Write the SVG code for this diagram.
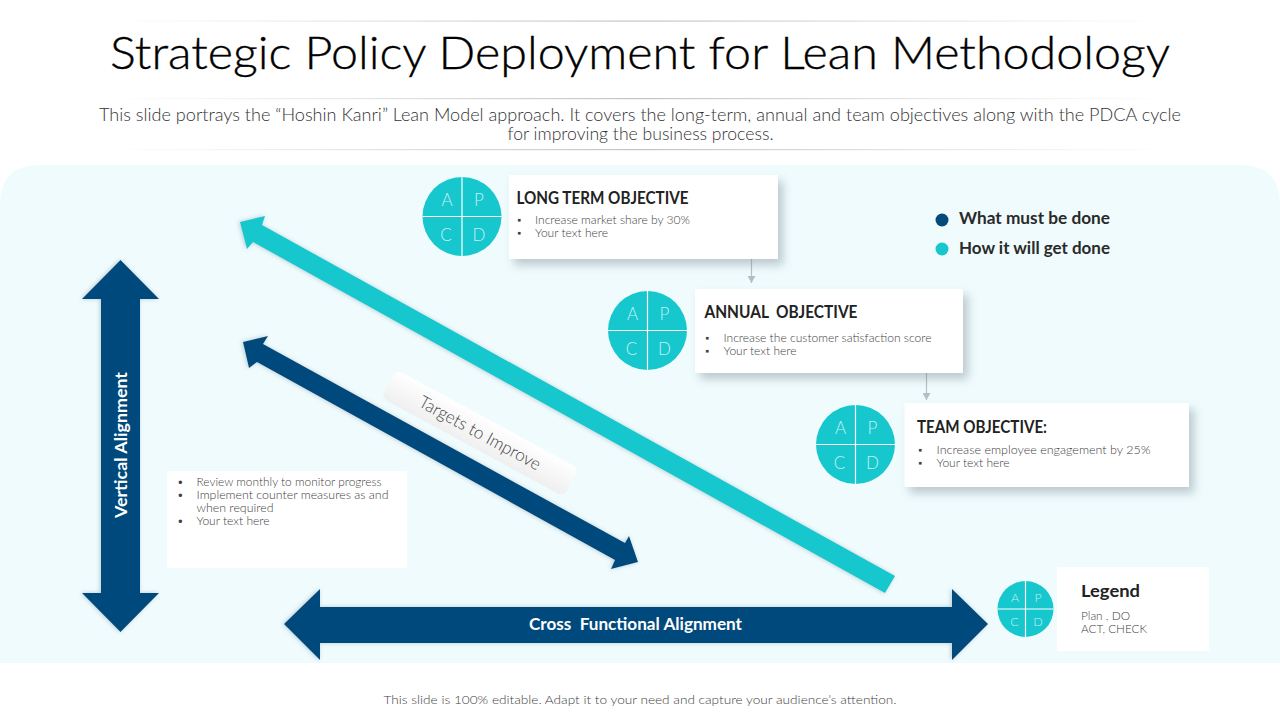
<svg xmlns="http://www.w3.org/2000/svg" width="1280" height="720" viewBox="0 0 1280 720">
<style>
text{font-family:"Lato","Open Sans","Liberation Sans",sans-serif;white-space:pre}
.navy{fill:#064a7c}.teal{fill:#16c7cd}
.card{fill:#fff}
.ct{font-size:16.5px;font-weight:700;fill:#222}
.bt{font-size:11.5px;fill:#3f3f3f;font-weight:300}
.cl{font-size:17px;fill:#c4f1f3;text-anchor:middle;font-weight:300}
.cs{font-size:12.5px;fill:#c4f1f3;text-anchor:middle;font-weight:300}
.div{stroke:#fff;stroke-width:1.2}
.sub{font-size:17px;fill:#333;text-anchor:middle;font-weight:300}
.wl{font-size:17px;font-weight:700;fill:#fff;text-anchor:middle}
.key{font-size:17px;font-weight:700;fill:#2a2a2a}
.conn{stroke:#b4bfc4;stroke-width:1.2;fill:none;marker-end:url(#ah)}
</style>
<defs>
<linearGradient id="rule"><stop offset="0" stop-color="#ccc" stop-opacity="0"/><stop offset=".5" stop-color="#c4c4c4"/><stop offset="1" stop-color="#ccc" stop-opacity="0"/></linearGradient>
<linearGradient id="band" x1="0" y1="0" x2="0" y2="1"><stop offset="0" stop-color="#fff"/><stop offset="1" stop-color="#efeff0"/></linearGradient>
<filter id="cs" x="-10%" y="-20%" width="125%" height="160%"><feDropShadow dx="5" dy="6" stdDeviation="5" flood-color="#6f8088" flood-opacity=".4"/></filter>
<filter id="as" x="-10%" y="-10%" width="120%" height="120%"><feDropShadow dx="-1" dy="0" stdDeviation="2" flood-color="#5d7d90" flood-opacity=".4"/></filter>
<marker id="ah" markerUnits="userSpaceOnUse" markerWidth="8" markerHeight="8" refX="7" refY="4" orient="auto"><path d="M0 0L7 4L0 8z" fill="#b4bfc4"/></marker>
<g id="pdca">
<circle r="39.5" class="teal"/>
<path class="div" d="M0-39.5V39.5M-39.5 0H39.5"/>
<text class="cl" x="-15" y="-11">A</text><text class="cl" x="17" y="-11">P</text>
<text class="cl" x="-16" y="24">C</text><text class="cl" x="17" y="24">D</text>
</g>
</defs>
<rect width="1280" height="720" fill="#fff"/>
<path d="M0 663V205Q0 165 40 165H1240Q1280 165 1280 205V663z" fill="#effbfd"/>
<g id="header">
<rect x="110" y="20.5" width="1060" height="1.2" fill="url(#rule)"/>
<rect x="110" y="98" width="1060" height="1.2" fill="url(#rule)"/>
<rect x="110" y="149" width="1060" height="1.2" fill="url(#rule)"/>
<text x="640" y="69" font-size="46" fill="#000" stroke="#000" stroke-width=".35" text-anchor="middle" font-weight="300" textLength="1060" lengthAdjust="spacingAndGlyphs">Strategic Policy Deployment for Lean Methodology</text>
<text class="sub" x="640" y="121" textLength="1082" lengthAdjust="spacingAndGlyphs">This slide portrays the “Hoshin Kanri” Lean Model approach. It covers the long-term, annual and team objectives along with the PDCA cycle</text>
<text class="sub" x="640.5" y="140" textLength="266" lengthAdjust="spacingAndGlyphs">for improving the business process.</text>
</g>
<g id="connectors">
<path class="conn" d="M751.5 259V283"/>
<path class="conn" d="M926.5 373V400"/>
<path id="arrow-teal" class="teal" filter="url(#as)" d="M240 222L265 216L262 225L895 576L885 593L253 242L247 249z"/>
<path id="arrow-navy" class="navy" filter="url(#as)" d="M243 342L268 336L263 344L625 543L629 536L638 562L611 569L615 560L257 362L249 368z"/>
<path id="arrow-vertical" class="navy" filter="url(#as)" d="M120.500 260L159 299H140V593H159L120.500 632L82 593H101V299H82z"/>
<path id="arrow-horizontal" class="navy" filter="url(#as)" d="M284 624L320 589V607H952V589L988 624L952 660V643H320V660z"/>
</g>
<g id="band-targets" transform="rotate(28.500 480 433)">
<rect x="376" y="417" width="208" height="32" rx="7" fill="url(#band)"/>
<text x="480" y="439" font-size="17.500" fill="#444" text-anchor="middle" font-weight="300" textLength="136" lengthAdjust="spacingAndGlyphs">Targets to Improve</text>
</g>
<text class="wl" transform="translate(127 445) rotate(-90)" textLength="146" lengthAdjust="spacingAndGlyphs">Vertical Alignment</text>
<text class="wl" x="635.500" y="630" textLength="213" lengthAdjust="spacingAndGlyphs">Cross  Functional Alignment</text>
<g id="node-long-term">
<use href="#pdca" x="462" y="216.500"/>
<rect class="card" filter="url(#cs)" x="509" y="175" width="269" height="84"/>
<text class="ct" x="516.500" y="204" textLength="172" lengthAdjust="spacingAndGlyphs">LONG TERM OBJECTIVE</text>
<text class="bt" x="517" y="224">▪</text><text class="bt" x="535" y="224" textLength="155" lengthAdjust="spacingAndGlyphs">Increase market share by 30%</text>
<text class="bt" x="517" y="237">▪</text><text class="bt" x="535" y="237" textLength="73" lengthAdjust="spacingAndGlyphs">Your text here</text>
</g>
<g id="node-annual">
<use href="#pdca" x="647.500" y="330.500"/>
<rect class="card" filter="url(#cs)" x="695" y="289" width="268" height="84"/>
<text class="ct" x="704.500" y="318" textLength="153" lengthAdjust="spacingAndGlyphs">ANNUAL  OBJECTIVE</text>
<text class="bt" x="705" y="342">▪</text><text class="bt" x="723.500" y="342" textLength="208" lengthAdjust="spacingAndGlyphs">Increase the customer satisfaction score</text>
<text class="bt" x="705" y="355">▪</text><text class="bt" x="723.500" y="355" textLength="73" lengthAdjust="spacingAndGlyphs">Your text here</text>
</g>
<g id="node-team">
<use href="#pdca" x="855.500" y="444.500"/>
<rect class="card" filter="url(#cs)" x="904.500" y="403" width="284.500" height="84"/>
<text class="ct" x="917" y="433" textLength="130" lengthAdjust="spacingAndGlyphs">TEAM OBJECTIVE:</text>
<text class="bt" x="918" y="454">▪</text><text class="bt" x="936.500" y="454" textLength="214" lengthAdjust="spacingAndGlyphs">Increase employee engagement by 25%</text>
<text class="bt" x="918" y="467">▪</text><text class="bt" x="936.500" y="467" textLength="73" lengthAdjust="spacingAndGlyphs">Your text here</text>
</g>
<g id="node-review">
<rect class="card" x="167" y="471" width="240" height="97"/>
<text class="bt" x="177" y="486">•</text><text class="bt" x="196.500" y="486" textLength="185" lengthAdjust="spacingAndGlyphs">Review monthly to monitor progress</text>
<text class="bt" x="177" y="499">•</text><text class="bt" x="196.500" y="499" textLength="192" lengthAdjust="spacingAndGlyphs">Implement counter measures as and</text>
<text class="bt" x="196.500" y="512" textLength="77" lengthAdjust="spacingAndGlyphs">when required</text>
<text class="bt" x="177" y="525">•</text><text class="bt" x="196.500" y="525" textLength="73" lengthAdjust="spacingAndGlyphs">Your text here</text>
</g>
<g id="key">
<circle class="navy" cx="942" cy="220" r="6.500"/>
<text class="key" x="959" y="224" textLength="151" lengthAdjust="spacingAndGlyphs">What must be done</text>
<circle class="teal" cx="942" cy="249" r="6.500"/>
<text class="key" x="959" y="254" textLength="151" lengthAdjust="spacingAndGlyphs">How it will get done</text>
</g>
<g id="node-legend">
<circle class="teal" cx="1025.500" cy="609" r="28"/>
<path class="div" d="M1025.500 581V637M997.500 609H1053.500"/>
<text class="cs" x="1015" y="602">A</text><text class="cs" x="1038" y="602">P</text>
<text class="cs" x="1014.500" y="626">C</text><text class="cs" x="1038" y="626">D</text>
<rect class="card" x="1057" y="567" width="152" height="84"/>
<text x="1081" y="597" font-size="17" font-weight="700" fill="#222" textLength="59" lengthAdjust="spacingAndGlyphs">Legend</text>
<text class="bt" x="1081" y="620" textLength="49" lengthAdjust="spacingAndGlyphs">Plan , DO</text>
<text class="bt" x="1081" y="633" textLength="66" lengthAdjust="spacingAndGlyphs">ACT, CHECK</text>
</g>
<text x="640" y="704" font-size="12.500" fill="#3f3f3f" text-anchor="middle" font-weight="300" textLength="513" lengthAdjust="spacingAndGlyphs">This slide is 100% editable. Adapt it to your need and capture your audience’s attention.</text>
</svg>
